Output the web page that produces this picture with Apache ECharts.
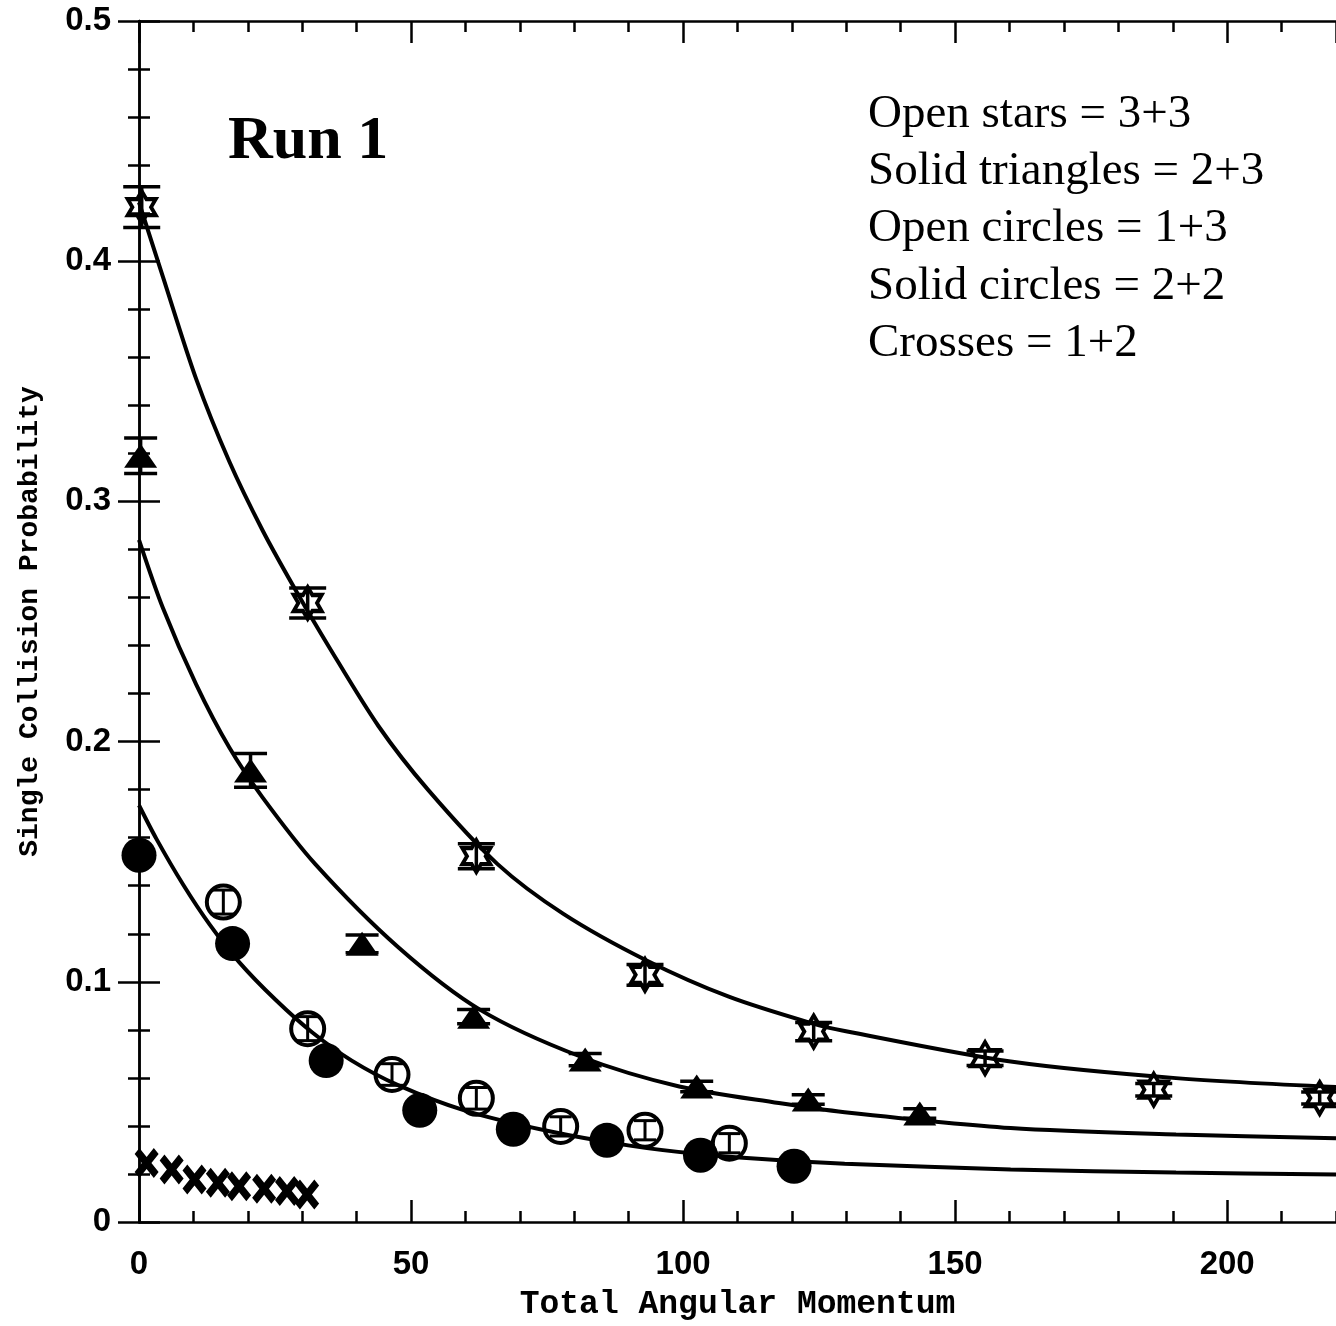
<!DOCTYPE html>
<html>
<head>
<meta charset="utf-8">
<script src="https://cdn.jsdelivr.net/npm/echarts@6/dist/echarts.min.js"></script>
<style>
  html, body { margin: 0; padding: 0; background: #fff; }
  #chart { width: 1336px; height: 1326px; }
</style>
</head>
<body>
<div id="chart"></div>
<script>
// ---------------- data ----------------
// Open stars (3+3)
const starX   = [0.5, 31, 62, 93, 124, 155.5, 186.5, 217];
const starY   = [0.4225, 0.2577, 0.1523, 0.1029, 0.0793, 0.0682, 0.0551, 0.0516];
const starErr = [0.0085, 0.0062, 0.0052, 0.0043, 0.0038, 0.0030, 0.0026, 0.0025];

// Solid triangles (2+3)
const triX   = [0.3, 20.5, 41, 61.5, 82, 102.5, 123, 143.5];
const triY   = [0.319, 0.188, 0.1158, 0.0855, 0.0676, 0.0564, 0.051, 0.0452];
const triErr = [0.0074, 0.007, 0.0037, 0.003, 0.0025, 0.0022, 0.002, 0.002];

// Open circles (1+3)
const openX   = [15.5, 31, 46.5, 62, 77.5, 93, 108.5];
const openY   = [0.1332, 0.0805, 0.0614, 0.0515, 0.0398, 0.0382, 0.0328];
const openErr = [0.005, 0.005, 0.0045, 0.0045, 0.004, 0.004, 0.004];

// Solid circles (2+2)
const solidX = [0, 17.2, 34.4, 51.6, 68.8, 86, 103.2, 120.4];
const solidY = [0.1527, 0.1159, 0.0672, 0.0465, 0.0386, 0.034, 0.0278, 0.0232];

// Crosses (1+2)
const crossX = [1.4, 6, 10.2, 14.5, 18.4, 23, 27.2, 30.9];
const crossY = [0.0246, 0.0219, 0.0177, 0.0163, 0.0149, 0.0138, 0.0129, 0.0115];

// Fitted curves
const starFitX = [0, 4.4, 10.5, 16.6, 22.7, 28.8, 34.9, 44, 53.1, 65.9, 78, 93.2, 108.4, 123.7, 129.7, 160.2, 190.6, 220];
const starFitY = [0.4245, 0.3935, 0.351, 0.3166, 0.288, 0.263, 0.2395, 0.2065, 0.180, 0.149, 0.1283, 0.109, 0.0938, 0.0827, 0.0795, 0.0668, 0.0599, 0.0562];
const triFitX  = [0, 4.4, 10.5, 16.6, 22.7, 32.4, 47.6, 62.8, 81.1, 99.3, 117.6, 129.7, 160.2, 190.6, 220];
const triFitY  = [0.284, 0.2556, 0.2238, 0.1975, 0.1768, 0.149, 0.1145, 0.0882, 0.0689, 0.0564, 0.0495, 0.0457, 0.0391, 0.0364, 0.0349];
const circFitX = [0, 3.2, 8.1, 13, 18.4, 25.1, 31.8, 39.1, 47.6, 59.8, 75, 90.2, 102.4, 114.5, 129.7, 160.2, 190.6, 220];
const circFitY = [0.1735, 0.1595, 0.1405, 0.1238, 0.1082, 0.0925, 0.079, 0.0672, 0.057, 0.0465, 0.038, 0.0318, 0.0284, 0.0262, 0.0243, 0.0219, 0.0206, 0.0198];

// Axes
const xMin = 0, xMax = 220, xMajor = 50, xMinor = 10;
const yMin = 0, yMax = 0.5, yMajor = 0.1;

// Texts
const xTitle = 'Total Angular Momentum';
const yTitle = 'Single Collision Probability';
const runLabel = 'Run 1';
const legendLines = [
  'Open stars = 3+3',
  'Solid triangles = 2+3',
  'Open circles = 1+3',
  'Solid circles = 2+2',
  'Crosses = 1+2'
];

// ---------------- chart ----------------
const zip2 = (xs, ys) => xs.map((x, i) => [x, ys[i]]);
const zip3 = (xs, ys, es) => xs.map((x, i) => [x, ys[i], es[i]]);

const BLACK = '#000';
const starPath = 'path://M0,-10 L2.887,-5 L8.66,-5 L5.774,0 L8.66,5 L2.887,5 L0,10 L-2.887,5 L-8.66,5 L-5.774,0 L-8.66,-5 L-2.887,-5 Z';
const crossPath = 'path://M-10,-6 L-6,-10 L0,-4 L6,-10 L10,-6 L4,0 L10,6 L6,10 L0,4 L-6,10 L-10,6 L-4,0 Z';

function errRender(capW, lw) {
  return function (params, api) {
    const x = api.value(0), y = api.value(1), e = api.value(2);
    const t = api.coord([x, y + e]);
    const b = api.coord([x, y - e]);
    const st = { stroke: BLACK, lineWidth: lw };
    return {
      type: 'group',
      children: [
        { type: 'line', shape: { x1: t[0], y1: t[1], x2: b[0], y2: b[1] }, style: st },
        { type: 'line', shape: { x1: t[0] - capW / 2, y1: t[1], x2: t[0] + capW / 2, y2: t[1] }, style: st },
        { type: 'line', shape: { x1: b[0] - capW / 2, y1: b[1], x2: b[0] + capW / 2, y2: b[1] }, style: st }
      ]
    };
  };
}

const tickLabelStyle = { fontFamily: 'Liberation Sans', fontWeight: 'bold', fontSize: 33, color: BLACK };
const lineSt = { color: BLACK, width: 2.5 };

function xAx(position, interval, tickLen, showLine, showLabel, extra) {
  return Object.assign({
    type: 'value', gridIndex: 0, position: position,
    min: xMin, max: xMax, interval: interval,
    axisLine: { show: showLine, lineStyle: lineSt },
    axisTick: { show: true, inside: true, length: tickLen, lineStyle: lineSt },
    axisLabel: showLabel ? Object.assign({
      margin: 26, showMaxLabel: false,
      formatter: v => (v % xMajor === 0 ? String(v) : '')
    }, tickLabelStyle) : { show: false },
    splitLine: { show: false }
  }, extra || {});
}
function yAx(position, showLabel, extra) {
  return Object.assign({
    type: 'value', gridIndex: 0, position: position,
    min: yMin, max: yMax, interval: yMajor,
    axisLine: { show: true, lineStyle: lineSt },
    axisTick: { show: true, inside: true, length: 21, lineStyle: lineSt },
    minorTick: { show: true, splitNumber: 5, length: 11, lineStyle: lineSt },
    axisLabel: showLabel ? Object.assign({
      margin: 28,
      formatter: v => (v === 0 ? '0' : v.toFixed(1))
    }, tickLabelStyle) : { show: false },
    splitLine: { show: false }, minorSplitLine: { show: false }
  }, extra || {});
}

const curveStyle = { color: BLACK, width: 4 };

const option = {
  animation: false,
  backgroundColor: '#fff',
  grid: { left: 139, top: 21, width: 1207, height: 1205, containLabel: false },
  xAxis: [
    xAx('bottom', xMajor, 22, true, true, {
      name: xTitle, nameLocation: 'middle', nameGap: 66,
      nameTextStyle: { fontFamily: 'Liberation Mono', fontWeight: 'bold', fontSize: 33, color: BLACK }
    }),
    xAx('bottom', xMinor, 11, false, false),
    xAx('top', xMajor, 22, true, false),
    xAx('top', xMinor, 11, false, false)
  ],
  yAxis: [
    yAx('left', true, {
      name: yTitle, nameLocation: 'middle', nameGap: 95, nameRotate: 90,
      nameTextStyle: { fontFamily: 'Liberation Mono', fontWeight: 'bold', fontSize: 28, color: BLACK }
    }),
    yAx('right', false)
  ],
  graphic: [
    { type: 'text', left: 228, top: 111, style: { text: runLabel, font: 'bold 62px "Liberation Serif"', fill: BLACK } }
  ].concat(legendLines.map((t, i) => ({
    type: 'text', left: 868, top: 91 + i * 57.3,
    style: { text: t, font: '47px "Liberation Serif"', fill: BLACK }
  }))),
  series: [
    { type: 'line', data: zip2(starFitX, starFitY), smooth: 0.3, showSymbol: false, lineStyle: curveStyle, z: 2 },
    { type: 'line', data: zip2(triFitX, triFitY), smooth: 0.3, showSymbol: false, lineStyle: curveStyle, z: 2 },
    { type: 'line', data: zip2(circFitX, circFitY), smooth: 0.3, showSymbol: false, lineStyle: curveStyle, z: 2 },

    { type: 'custom', data: zip3(starX, starY, starErr), renderItem: errRender(37, 3.5), z: 3 },
    { type: 'custom', data: zip3(triX, triY, triErr), renderItem: errRender(33, 3.5), z: 3 },
    { type: 'custom', data: zip3(openX, openY, openErr), renderItem: errRender(22, 3), z: 3 },

    { type: 'scatter', data: zip2(starX, starY), symbol: starPath, symbolSize: [28, 32],
      itemStyle: { color: 'rgba(255,255,255,0)', borderColor: BLACK, borderWidth: 4, opacity: 1 }, z: 4 },
    { type: 'scatter', data: zip2(triX, triY), symbol: 'triangle', symbolSize: [33, 24],
      itemStyle: { color: BLACK, opacity: 1 }, z: 4 },
    { type: 'scatter', data: zip2(openX, openY), symbol: 'circle', symbolSize: 33,
      itemStyle: { color: 'rgba(255,255,255,0)', borderColor: BLACK, borderWidth: 4, opacity: 1 }, z: 4 },
    { type: 'scatter', data: zip2(solidX, solidY), symbol: 'circle', symbolSize: 35,
      itemStyle: { color: BLACK, opacity: 1 }, z: 4 },
    { type: 'scatter', data: zip2(crossX, crossY), symbol: crossPath, symbolSize: [24, 30],
      itemStyle: { color: BLACK, opacity: 1 }, z: 4 }
  ]
};

const chart = echarts.init(document.getElementById('chart'), null, { renderer: 'canvas' });
chart.setOption(option);
</script>
</body>
</html>
